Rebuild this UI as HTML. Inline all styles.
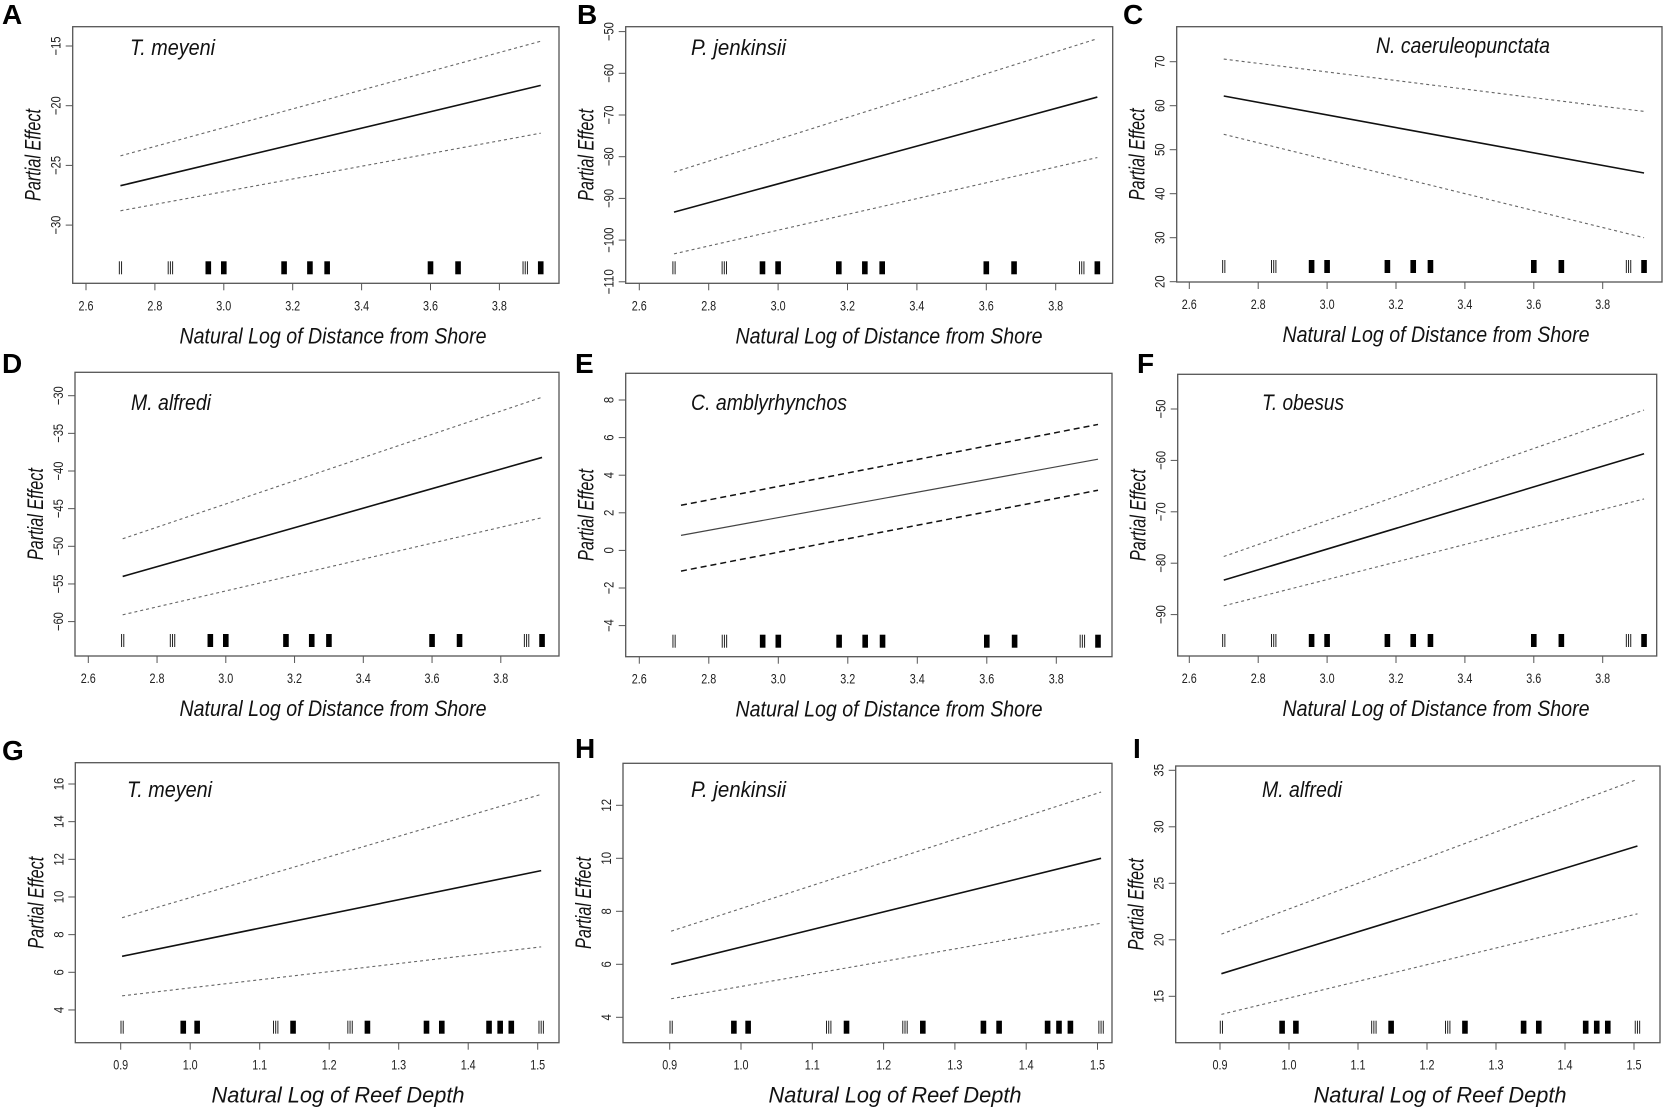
<!DOCTYPE html>
<html><head><meta charset="utf-8">
<style>
html,body{margin:0;padding:0;background:#fff;}
svg{display:block;}
text{font-family:"Liberation Sans",Arial,sans-serif;}
.tk{font-size:14px;fill:#222;}
.lab{font-style:italic;font-size:22px;fill:#111;}
.let{font-weight:bold;font-size:28px;fill:#000;}
</style></head>
<body>
<svg id="s" xmlns="http://www.w3.org/2000/svg" width="1668" height="1118" viewBox="0 0 1668 1118"></svg>
<script>
var S=document.getElementById('s'),out='';
var dist=[[2.70,'t2'],[2.845,'t3'],[2.955,'b'],[3.0,'b'],[3.175,'b'],[3.25,'b'],[3.30,'b'],[3.60,'b'],[3.68,'b'],[3.875,'t3'],[3.92,'b']];
var dep=[[0.902,'t2'],[0.99,'b'],[1.01,'b'],[1.123,'t3'],[1.148,'b'],[1.23,'t3'],[1.255,'b'],[1.34,'b'],[1.362,'b'],[1.43,'b'],[1.446,'b'],[1.462,'b'],[1.505,'t3']];
var dT=[2.6,2.8,3.0,3.2,3.4,3.6,3.8], rT=[0.9,1.0,1.1,1.2,1.3,1.4,1.5];
var DL='Natural Log of Distance from Shore', RL='Natural Log of Reef Depth';
var P=[
 {L:'A',lx:2,ly:24,box:[72.7,26.7,559,283.3],xv:2.6,xp:86,xk:344.5,yv:-15,yp:46,yk:11.94,yt:[-15,-20,-25,-30],sp:'T. meyeni',sx:130,sy:55,sw:85,
  x:[2.7,3.92],m:[-26.7,-18.3],u:[-24.2,-14.6],l:[-28.8,-22.3],xt:dT,rug:dist,xl:DL,xc:333},
 {L:'B',lx:577,ly:24,box:[625.7,26.7,1112.7,283.3],xv:2.6,xp:639.3,xk:347,yv:-60,yp:73.3,yk:4.17,yt:[-50,-60,-70,-80,-90,-100,-110],sp:'P. jenkinsii',sx:691,sy:55,sw:95,
  x:[2.7,3.92],m:[-93.3,-65.7],u:[-83.7,-51.7],l:[-103.3,-80.2],xt:dT,rug:dist,xl:DL,xc:889},
 {L:'C',lx:1123,ly:24,box:[1176.7,26.7,1662,282],xv:2.6,xp:1189.3,xk:344.5,yv:20,yp:281.7,yk:4.4,yt:[20,30,40,50,60,70],sp:'N. caeruleopunctata',sx:1376,sy:53,sw:174,
  x:[2.7,3.92],m:[62.2,44.7],u:[70.6,58.7],l:[53.5,30],xt:dT,rug:dist,xl:DL,xc:1436},
 {L:'D',lx:2,ly:373,box:[75,372.3,559,656],xv:2.6,xp:88.3,xk:343.75,yv:-30,yp:395.7,yk:7.53,yt:[-30,-35,-40,-45,-50,-55,-60],sp:'M. alfredi',sx:131,sy:410,sw:80,
  x:[2.7,3.92],m:[-54,-38.2],u:[-49,-30.2],l:[-59.1,-46.2],xt:dT,rug:dist,xl:DL,xc:333},
 {L:'E',lx:575,ly:373,box:[625.7,373.3,1112,656.7],xv:2.6,xp:639.3,xk:347.5,yv:8,yp:400,yk:18.8,yt:[8,6,4,2,0,-2,-4],sp:'C. amblyrhynchos',sx:691,sy:410,sw:156,
  x:[2.72,3.92],m:[0.8,4.85],u:[2.4,6.7],l:[-1.1,3.2],xt:dT,rug:dist,xl:DL,xc:889,E:1},
 {L:'F',lx:1137,ly:373,box:[1177.7,374.3,1656.7,656],xv:2.6,xp:1189.3,xk:344.5,yv:-50,yp:409,yk:5.14,yt:[-50,-60,-70,-80,-90],sp:'T. obesus',sx:1262,sy:410,sw:82,
  x:[2.7,3.92],m:[-83.3,-58.7],u:[-78.7,-50.2],l:[-88.3,-67.5],xt:dT,rug:dist,xl:DL,xc:1436},
 {L:'G',lx:2,ly:760,box:[75.3,762.7,559,1042.7],xv:0.9,xp:120.7,xk:695,yv:16,yp:784,yk:18.83,yt:[4,6,8,10,12,14,16],sp:'T. meyeni',sx:127,sy:797,sw:85,
  x:[0.902,1.505],m:[6.85,11.4],u:[8.9,15.45],l:[4.75,7.35],xt:rT,rug:dep,xl:RL,xc:338},
 {L:'H',lx:575,ly:758,box:[623,763.3,1112,1042.7],xv:0.9,xp:669.7,xk:713,yv:12,yp:805.3,yk:26.5,yt:[4,6,8,10,12],sp:'P. jenkinsii',sx:691,sy:797,sw:95,
  x:[0.902,1.505],m:[6.0,10.0],u:[7.25,12.5],l:[4.7,7.55],xt:rT,rug:dep,xl:RL,xc:895},
 {L:'I',lx:1133,ly:758,box:[1175.7,766,1660,1042.7],xv:0.9,xp:1220,xk:690,yv:35,yp:770.3,yk:11.3,yt:[15,20,25,30,35],sp:'M. alfredi',sx:1262,sy:797,sw:80,
  x:[0.902,1.505],m:[17.0,28.3],u:[20.5,34.2],l:[13.4,22.3],xt:rT,rug:dep,xl:RL,xc:1440}
];
function fmt(v,dec){return dec?v.toFixed(1):String(v).replace('-','\u2212');}
P.forEach(function(p){
  var b=p.box,X=function(v){return p.xp+(v-p.xv)*p.xk;},Y=function(v){return p.yp-(v-p.yv)*p.yk;};
  out+='<text class="let" x="'+p.lx+'" y="'+p.ly+'">'+p.L+'</text>';
  out+='<rect x="'+b[0]+'" y="'+b[1]+'" width="'+(b[2]-b[0])+'" height="'+(b[3]-b[1])+'" fill="none" stroke="#555" stroke-width="1.3"/>';
  p.xt.forEach(function(t){var x=X(t);if(x>b[2])return;
    out+='<line x1="'+x+'" y1="'+b[3]+'" x2="'+x+'" y2="'+(b[3]+7)+'" stroke="#555" stroke-width="1"/>';
    out+='<text class="tk" x="'+x+'" y="'+(b[3]+27)+'" text-anchor="middle" textLength="15" lengthAdjust="spacingAndGlyphs">'+t.toFixed(1)+'</text>';});
  p.yt.forEach(function(t){var y=Y(t);
    out+='<line x1="'+b[0]+'" y1="'+y+'" x2="'+(b[0]-7)+'" y2="'+y+'" stroke="#555" stroke-width="1"/>';
    var s=fmt(t),tl=s.length*6.3;
    out+='<text class="tk" transform="translate('+(b[0]-12)+','+y+') rotate(-90)" x="0" y="0" text-anchor="middle" textLength="'+tl+'" lengthAdjust="spacingAndGlyphs">'+s+'</text>';});
  out+='<text class="lab" transform="translate('+(b[0]-32)+','+((b[1]+b[3])/2)+') rotate(-90)" text-anchor="middle" textLength="92" lengthAdjust="spacingAndGlyphs">Partial Effect</text>';
  var xlw=p.xl==DL?307:253;
  out+='<text class="lab" x="'+p.xc+'" y="'+(b[3]+60)+'" text-anchor="middle" textLength="'+xlw+'" lengthAdjust="spacingAndGlyphs">'+p.xl+'</text>';
  out+='<text class="lab" x="'+p.sx+'" y="'+p.sy+'" textLength="'+p.sw+'" lengthAdjust="spacingAndGlyphs">'+p.sp+'</text>';
  var x1=X(p.x[0]),x2=X(p.x[1]);
  var dsh=p.E?'stroke="#111" stroke-width="1.5" stroke-dasharray="6,4"':'stroke="#666" stroke-width="1.1" stroke-dasharray="3,3"';
  out+='<line x1="'+x1+'" y1="'+Y(p.u[0])+'" x2="'+x2+'" y2="'+Y(p.u[1])+'" '+dsh+'/>';
  out+='<line x1="'+x1+'" y1="'+Y(p.l[0])+'" x2="'+x2+'" y2="'+Y(p.l[1])+'" '+dsh+'/>';
  out+='<line x1="'+x1+'" y1="'+Y(p.m[0])+'" x2="'+x2+'" y2="'+Y(p.m[1])+'" stroke="'+(p.E?'#444':'#111')+'" stroke-width="'+(p.E?1.2:1.6)+'"/>';
  var r1=b[3]-22,r2=b[3]-9;
  p.rug.forEach(function(r){var x=X(r[0]);
    if(r[1]=='b'){out+='<rect x="'+(x-2.8)+'" y="'+r1+'" width="5.6" height="'+(r2-r1)+'" fill="#000"/>';}
    else{var n=r[1]=='t2'?2:3;for(var i=0;i<n;i++){var xx=x-(n-1)*1.1+i*2.2;
      out+='<line x1="'+xx+'" y1="'+r1+'" x2="'+xx+'" y2="'+r2+'" stroke="#222" stroke-width="1"/>';}}
  });
});
S.innerHTML=out;
</script>
</body></html>
